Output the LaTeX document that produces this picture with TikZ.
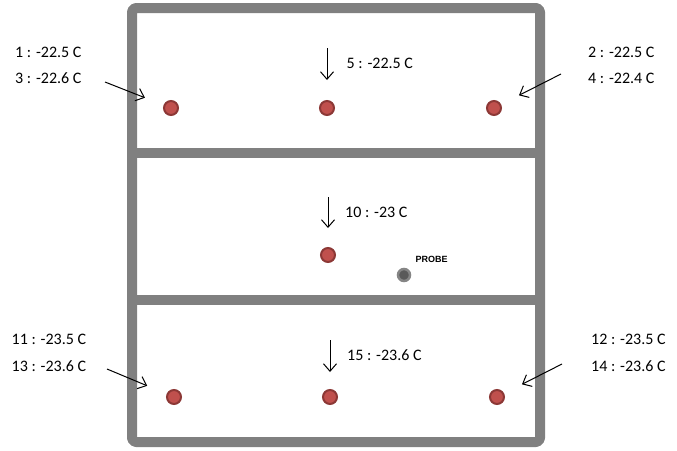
\documentclass[tikz,border=0pt]{standalone}
\usepackage{fontspec}
\setmainfont{Carlito}
\newfontfamily\probefont{Liberation Sans}
\usetikzlibrary{arrows.meta}
\definecolor{wallgray}{HTML}{808080}
\definecolor{sensfill}{HTML}{C0504D}
\definecolor{sensline}{HTML}{8C3836}
\definecolor{probefill}{HTML}{595959}
\definecolor{probeline}{HTML}{858585}
\begin{document}
\begin{tikzpicture}[x=1pt,y=-1pt,
  wall/.style={draw=wallgray,line width=10pt,line join=round},
  sensor/.style={circle,fill=sensfill,draw=sensline,line width=2pt,minimum size=14pt,inner sep=0pt},
  probedot/.style={circle,fill=probefill,draw=probeline,line width=2.5pt,minimum size=12pt,inner sep=0pt},
  lbl/.style={anchor=base west,inner sep=0pt,font=\fontsize{16}{19}\selectfont},
  pointer/.style={-{Straight Barb[length=7.5pt,width=13pt,line width=1pt]},line width=1pt,black}]
\useasboundingbox (0,0) rectangle (677,450);
% walls
\draw[wall,rounded corners=4pt] (132,8) rectangle (540,442);
\draw[wall] (132,152.5) -- (540,152.5);
\draw[wall] (132,299.5) -- (540,299.5);
% sensors
\node[sensor] (s1) at (171,108) {};
\node[sensor] (s5) at (327,108) {};
\node[sensor] (s2) at (494,108) {};
\node[sensor] (s10) at (328,255) {};
\node[sensor] (s11) at (174,397) {};
\node[sensor] (s15) at (330,397) {};
\node[sensor] (s12) at (497,397) {};
\node[probedot] (probe) at (404,275) {};
\node[inner sep=0pt,font=\probefont\bfseries\fontsize{9}{10}\selectfont] (probelbl) at (431.5,259.5) {PROBE};
% labels
\node[lbl] (l1) at (15,57) {1 : -22.5 C};
\node[lbl] (l3) at (15,83) {3 : -22.6 C};
\node[lbl] (l5) at (346.5,68) {5 : -22.5 C};
\node[lbl] (l2) at (588,57) {2 : -22.5 C};
\node[lbl] (l4) at (588,83) {4 : -22.4 C};
\node[lbl] (l10) at (345,217) {10 : -23 C};
\node[lbl] (l11) at (11.5,344) {11 : -23.5 C};
\node[lbl] (l13) at (11.5,371) {13 : -23.6 C};
\node[lbl] (l15) at (347,360) {15 : -23.6 C};
\node[lbl] (l12) at (591,344) {12 : -23.5 C};
\node[lbl] (l14) at (591,371) {14 : -23.6 C};
% pointer tails
\coordinate (t1) at (105,82);
\coordinate (t5) at (327,48);
\coordinate (t2) at (561,74);
\coordinate (t10) at (328,197);
\coordinate (t11) at (107,369);
\coordinate (t15) at (330,340);
\coordinate (t12) at (562,364);
\draw[pointer,shorten >=20pt] (t1) -- (s1);
\draw[pointer,shorten >=20pt] (t5) -- (s5);
\draw[pointer,shorten >=20pt] (t2) -- (s2);
\draw[pointer,shorten >=19pt] (t10) -- (s10);
\draw[pointer,shorten >=21pt] (t11) -- (s11);
\draw[pointer,shorten >=17pt] (t15) -- (s15);
\draw[pointer,shorten >=20pt] (t12) -- (s12);
\end{tikzpicture}
\end{document}
